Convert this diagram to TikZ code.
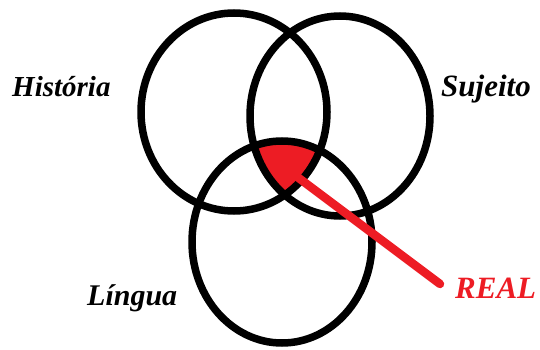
\documentclass[tikz,border=0pt]{standalone}
\usepackage{fontspec}
\setmainfont{Liberation Serif}
\definecolor{paintred}{RGB}{237,28,36}
\begin{document}
\begin{tikzpicture}[x=1pt,y=-1pt,
  ring/.style={draw=black,line width=7.5pt},
  lbl/.style={font=\fontsize{#1}{32}\selectfont\bfseries\itshape,anchor=base west,inner sep=0pt},
  lbl/.default=30,
  realline/.style={draw=paintred,line width=8.5pt,line cap=round}]
\useasboundingbox (0,0) rectangle (540,350);
% triple intersection
\begin{scope}
  \clip (234,112) ellipse [x radius=93,y radius=99];
  \clip (340,116) ellipse [x radius=90,y radius=100];
  \fill[paintred] (282,242) ellipse [x radius=90,y radius=101];
\end{scope}
\draw[ring] (234,112) ellipse [x radius=93,y radius=99];
\draw[ring] (340,116) ellipse [x radius=90,y radius=100];
\draw[ring] (282,242) ellipse [x radius=90,y radius=101];
\coordinate (tail) at (440,284);
\coordinate (tip) at (288,170);
\draw[realline] (tail) -- (tip);
\node[lbl=29] (hist) at (12,96) {História};
\node[lbl=31] (suj) at (441,96) {Sujeito};
\node[lbl=30] (ling) at (87,305) {Língua};
\node[lbl=31,text=paintred] (real) at (455,298) {REAL};
\end{tikzpicture}
\end{document}
